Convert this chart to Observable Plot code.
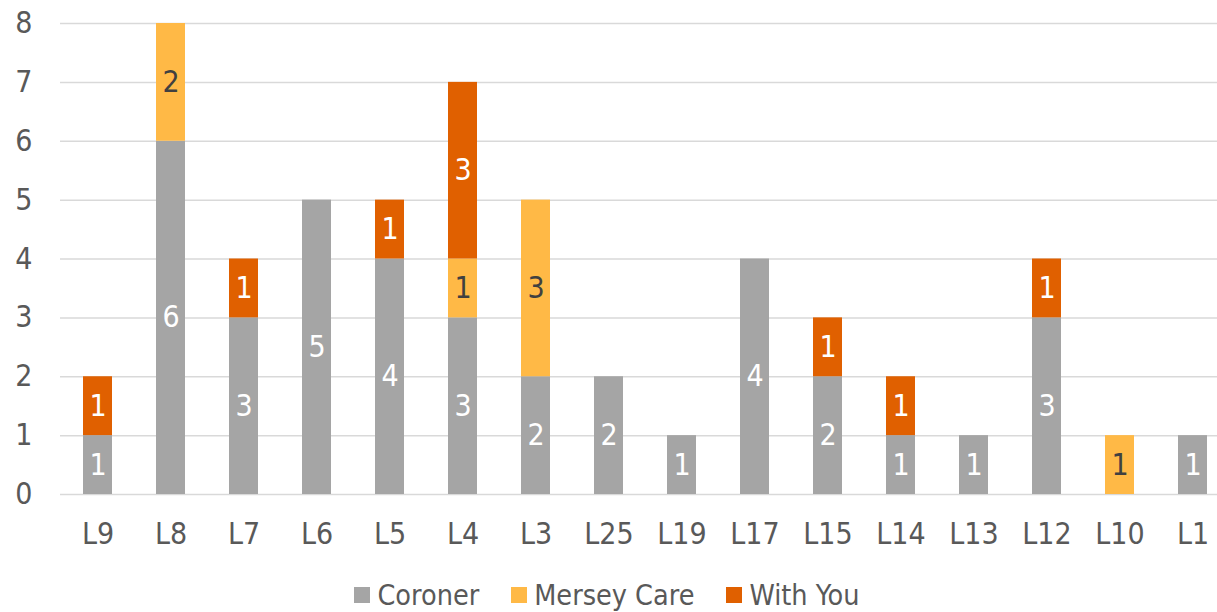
<!DOCTYPE html>
<html>
<head>
<meta charset="utf-8">
<script src="https://cdn.jsdelivr.net/npm/d3@7"></script>
<script src="https://cdn.jsdelivr.net/npm/@observablehq/plot@0.6"></script>
<style>
  html, body { overflow: hidden; }
  body { margin: 0; background: #fff; font-family: "DejaVu Sans Condensed", "DejaVu Sans", sans-serif; }
  #chart svg { display: block; }
  #legend { display: flex; justify-content: center; align-items: center; font-size: 28.5px; color: #595959; height: 46px; padding-right: 3px; }
  .item { display: flex; align-items: center; margin: 0 16px; }
  .sw { width: 16px; height: 16px; margin-right: 7px; }
</style>
</head>
<body>
<div id="chart"></div>
<div id="legend"></div>
<script>
const categories = ["L9","L8","L7","L6","L5","L4","L3","L25","L19","L17","L15","L14","L13","L12","L10","L1"];
const seriesNames = ["Coroner","Mersey Care","With You"];
const coroner    = [1,6,3,5,4,3,2,2,1,4,2,1,1,3,0,1];
const merseyCare = [0,2,0,0,0,1,3,0,0,0,0,0,0,0,1,0];
const withYou    = [1,0,1,0,1,3,0,0,0,0,1,1,0,1,0,0];
const yTicks = [0,1,2,3,4,5,6,7,8];
const colors = ["#A5A5A5","#FFB946","#E06000"];
const labelColors = ["#FFFFFF","#404040","#FFFFFF"];

const seriesValues = [coroner, merseyCare, withYou];
const rows = [];
const labels = [];
const base = categories.map(() => 0);
seriesValues.forEach((vals, s) => {
  vals.forEach((v, i) => {
    rows.push({cat: categories[i], series: seriesNames[s], value: v});
    if (v > 0) labels.push({cat: categories[i], series: seriesNames[s], value: v, mid: base[i] + v / 2, color: labelColors[s]});
    base[i] += v;
  });
});

const FS = 30;
const W = 1217, H = 572;
const chart = Plot.plot({
  width: W,
  height: H,
  marginLeft: 60,
  marginRight: 0,
  marginTop: 23,
  marginBottom: H - 494,
  style: {fontFamily: '"DejaVu Sans Condensed", "DejaVu Sans", sans-serif', fontSize: FS + "px", color: "#595959", background: "#fff"},
  x: {domain: categories, range: [59.9, 1230.1], paddingInner: 0.6, paddingOuter: 0.3, label: null},
  y: {domain: [0, 8], range: [494, 23], label: null},
  color: {domain: seriesNames, range: colors},
  marks: [
    Plot.ruleY(yTicks, {stroke: "#D9D9D9", strokeWidth: 1.5}),
    Plot.barY(rows, {x: "cat", y: "value", fill: "series", order: seriesNames}),
    Plot.text(labels, {x: "cat", y: "mid", text: d => String(d.value), fill: "color", fontSize: FS}),
    Plot.axisY({ticks: yTicks, tickSize: 0, tickPadding: 28, label: null, fill: "#595959", fontSize: FS}),
    Plot.axisX({tickSize: 0, tickPadding: 28, label: null, fill: "#595959", fontSize: FS})
  ]
});
document.getElementById("chart").appendChild(chart);

const legend = document.getElementById("legend");
seriesNames.forEach((name, i) => {
  const item = document.createElement("div");
  item.className = "item";
  const sw = document.createElement("div");
  sw.className = "sw";
  sw.style.background = colors[i];
  const t = document.createElement("span");
  t.textContent = name;
  item.appendChild(sw);
  item.appendChild(t);
  legend.appendChild(item);
});
</script>
</body>
</html>
